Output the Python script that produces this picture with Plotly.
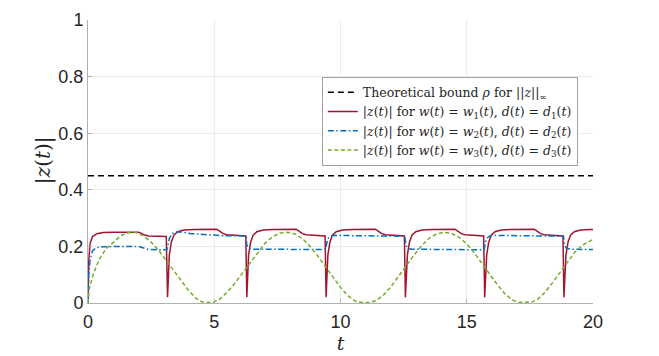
import plotly.graph_objects as go

# theoretical bound
bound_t = [0, 20]
bound_val = [0.45, 0.45]

# case 1 (red)
red_t = [0, 0.03, 0.08, 0.18, 0.35, 0.6, 1.0, 2.0, 2.1, 2.25, 2.4, 3.1, 3.15,
         3.22, 3.3, 3.4, 3.55, 3.8, 4.2, 5.1, 5.2, 5.35, 5.5, 6.25, 6.29,
         6.36, 6.44, 6.54, 6.69, 6.94, 7.34, 8.24, 8.34, 8.49, 8.64, 9.39, 9.43,
         9.50, 9.58, 9.68, 9.83, 10.08, 10.48, 11.38, 11.48, 11.63, 11.78, 12.53, 12.57,
         12.65, 12.73, 12.83, 12.98, 13.23, 13.63, 14.53, 14.63, 14.78, 14.93, 15.67, 15.71,
         15.79, 15.87, 15.97, 16.12, 16.37, 16.77, 17.67, 17.77, 17.92, 18.07, 18.81, 18.85,
         18.93, 19.01, 19.11, 19.26, 19.51, 19.91, 20]
red_val = [0, 0.15, 0.21, 0.235, 0.245, 0.249, 0.25, 0.25, 0.247, 0.24, 0.237, 0.235, 0.02,
           0.17, 0.215, 0.24, 0.252, 0.258, 0.26, 0.261, 0.255, 0.245, 0.241, 0.237, 0.02,
           0.17, 0.215, 0.24, 0.252, 0.258, 0.26, 0.261, 0.255, 0.245, 0.241, 0.237, 0.02,
           0.17, 0.215, 0.24, 0.252, 0.258, 0.26, 0.261, 0.255, 0.245, 0.241, 0.237, 0.02,
           0.17, 0.215, 0.24, 0.252, 0.258, 0.26, 0.261, 0.255, 0.245, 0.241, 0.237, 0.02,
           0.17, 0.215, 0.24, 0.252, 0.258, 0.26, 0.261, 0.255, 0.245, 0.241, 0.237, 0.02,
           0.17, 0.215, 0.24, 0.252, 0.258, 0.26, 0.26]

# case 2 (blue)
blue_t = [0, 0.03, 0.08, 0.18, 0.35, 0.6, 2.0, 2.1, 2.25, 2.4, 3.12,
          3.16, 3.22, 3.32, 3.5, 3.7, 4.1, 4.6, 5.3, 6.25, 6.29, 6.35, 6.5, 9.40,
          9.44, 9.5, 9.6, 9.8, 10.5, 12.55, 12.59, 12.65, 12.8, 15.69,
          15.73, 15.79, 15.89, 16.1, 17.0, 18.83, 18.87, 18.93, 19.1, 20]
blue_val = [0, 0.10, 0.15, 0.185, 0.196, 0.199, 0.2, 0.197, 0.191, 0.189, 0.188,
            0.2, 0.228, 0.245, 0.251, 0.251, 0.245, 0.241, 0.238, 0.237, 0.205, 0.195, 0.19, 0.189,
            0.21, 0.228, 0.236, 0.239, 0.238, 0.236, 0.205, 0.195, 0.19, 0.188,
            0.21, 0.228, 0.236, 0.239, 0.238, 0.236, 0.205, 0.195, 0.19, 0.189]

# case 3 (green)
green_t = [0, 0.05, 0.2, 0.45, 0.7, 1.0, 1.3, 1.6, 1.9, 2.2, 2.5, 2.8, 3.1, 3.4, 3.7,
           4.0, 4.3, 4.5, 4.7, 4.95, 5.2, 5.5, 5.8, 6.1, 6.4, 6.7, 7.0, 7.3, 7.6, 7.9,
           8.2, 8.5, 8.8, 9.1, 9.4, 9.7, 10.0, 10.3, 10.6, 10.85, 11.15, 11.4, 11.7, 12.0,
           12.3, 12.6, 12.9, 13.2, 13.5, 13.8, 14.1, 14.4, 14.7, 15.0, 15.3, 15.6, 15.9,
           16.2, 16.5, 16.8, 17.05, 17.3, 17.55, 17.8, 18.1, 18.4, 18.7, 19.0, 19.3, 19.6, 20.0]
green_val = [0, 0.05, 0.10, 0.155, 0.19, 0.215, 0.238, 0.248, 0.249, 0.237, 0.215, 0.186, 0.15, 0.112, 0.075,
             0.042, 0.015, 0.004, 0.002, 0.003, 0.012, 0.037, 0.068, 0.104, 0.142, 0.178, 0.21, 0.234, 0.247, 0.25,
             0.244, 0.227, 0.200, 0.166, 0.128, 0.090, 0.055, 0.025, 0.006, 0.002, 0.002, 0.008, 0.028, 0.058,
             0.093, 0.131, 0.168, 0.201, 0.228, 0.244, 0.25, 0.246, 0.232, 0.209, 0.177, 0.140, 0.102,
             0.066, 0.034, 0.011, 0.002, 0.002, 0.003, 0.012, 0.038, 0.072, 0.11, 0.148, 0.182, 0.205, 0.225]

x_ticks = [0, 5, 10, 15, 20]
y_ticks = [0, 0.2, 0.4, 0.6, 0.8, 1]
y_tick_text = ['0', '0.2', '0.4', '0.6', '0.8', '1']

SERIF = 'DejaVu Serif, Liberation Serif, serif'
SANS = 'Liberation Sans, Arial, sans-serif'

fig = go.Figure()
fig.add_trace(go.Scatter(x=bound_t, y=bound_val, mode='lines',
    name='Theoretical bound <i>ρ</i> for ||<i>z</i>||<sub>∞</sub>',
    line=dict(color='black', width=1.5, dash='6px,4px')))
fig.add_trace(go.Scatter(x=red_t, y=red_val, mode='lines',
    name='|<i>z</i>(<i>t</i>)| for <i>w</i>(<i>t</i>) = <i>w</i><sub>1</sub>(<i>t</i>), <i>d</i>(<i>t</i>) = <i>d</i><sub>1</sub>(<i>t</i>)',
    line=dict(color='#A2142F', width=1.5)))
fig.add_trace(go.Scatter(x=blue_t, y=blue_val, mode='lines',
    name='|<i>z</i>(<i>t</i>)| for <i>w</i>(<i>t</i>) = <i>w</i><sub>2</sub>(<i>t</i>), <i>d</i>(<i>t</i>) = <i>d</i><sub>2</sub>(<i>t</i>)',
    line=dict(color='#0072BD', width=1.5, dash='6px,2.5px,1.5px,2.5px')))
fig.add_trace(go.Scatter(x=green_t, y=green_val, mode='lines',
    name='|<i>z</i>(<i>t</i>)| for <i>w</i>(<i>t</i>) = <i>w</i><sub>3</sub>(<i>t</i>), <i>d</i>(<i>t</i>) = <i>d</i><sub>3</sub>(<i>t</i>)',
    line=dict(color='#77AC30', width=1.5, dash='4px,2.5px')))

# page body has an 8px margin, so the figure is 8px smaller than the window
fig.update_layout(
    width=651, height=348,
    margin=dict(l=80, r=66, t=12, b=53, autoexpand=False),
    paper_bgcolor='white', plot_bgcolor='white',
    showlegend=True,
    legend=dict(x=0.97, y=0.80, xanchor='right', yanchor='top',
                bgcolor='white', bordercolor='#a0a0a0', borderwidth=1,
                font=dict(family=SERIF, size=12.5, color='#262626'),
                itemwidth=30, tracegroupgap=0),
    font=dict(family=SANS, color='#262626'),
)
fig.update_xaxes(range=[0, 20], tickvals=x_ticks, showgrid=True, gridcolor='#ececec',
                 showline=True, linecolor='#b0b0b0', linewidth=1, zeroline=False,
                 ticks='inside', ticklen=4, tickcolor='#b0b0b0', ticklabelstandoff=2,
                 tickfont=dict(size=18, family=SANS, color='#262626'),
                 title=dict(text='<i>t</i>', font=dict(family=SERIF, size=19), standoff=1))
fig.update_yaxes(range=[0, 1], tickvals=y_ticks, ticktext=y_tick_text, showgrid=True,
                 gridcolor='#ececec', showline=True, linecolor='#b0b0b0', linewidth=1,
                 zeroline=False, ticks='inside', ticklen=4, tickcolor='#b0b0b0',
                 tickfont=dict(size=18, family=SANS, color='#262626'))
# y-axis title placed as an annotation so it sits close to the tick labels
fig.add_annotation(text='|<i>z</i>(<i>t</i>)|', xref='paper', yref='paper',
                   x=-0.089, y=0.505, xanchor='center', yanchor='middle',
                   textangle=-90, showarrow=False,
                   font=dict(family=SERIF, size=20, color='#262626'))

fig.write_html("out.html")
